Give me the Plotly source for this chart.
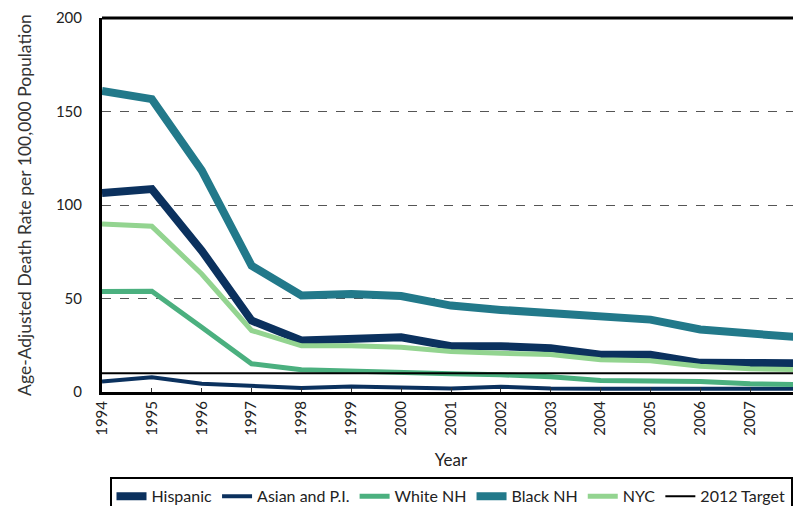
import plotly.graph_objects as go

years = list(range(1994, 2009))
hispanic = [106.4, 108.5, 75.6, 38.2, 27.5, 27.9, 29.3, 24.5, 24.5, 23.4, 19.9, 19.9, 15.6, 15.5, 15.3]
asian = [5.6, 7.9, 4.4, 3.1, 2.2, 2.9, 2.2, 1.9, 2.8, 1.9, 1.8, 1.8, 1.5, 1.5, 1.8]
white = [53.7, 53.9, 34.6, 15.1, 11.9, 11.1, 10.0, 9.8, 9.2, 8.1, 6.1, 6.1, 5.6, 4.4, 4.0]
black = [161.0, 156.6, 118.5, 67.6, 51.6, 52.4, 51.3, 46.2, 43.9, 42.2, 39.8, 38.7, 33.4, 31.6, 29.2]
nyc = [89.9, 88.6, 63.1, 32.9, 24.7, 24.7, 23.9, 21.6, 20.7, 20.1, 17.2, 16.7, 13.8, 12.4, 12.0]
target = [10] * len(years)
yticks = [0, 50, 100, 150, 200]

NAVY = "#0b315e"
TEAL = "#22798a"
GREEN = "#4bb07f"
LIGHT = "#93d490"

FONT = "Lato"

fig = go.Figure()
fig.add_trace(go.Scatter(x=years, y=hispanic, name="Hispanic", mode="lines",
                         line=dict(color=NAVY, width=8)))
fig.add_trace(go.Scatter(x=years, y=asian, name="Asian and P.I.", mode="lines",
                         line=dict(color=NAVY, width=4)))
fig.add_trace(go.Scatter(x=years, y=white, name="White NH", mode="lines",
                         line=dict(color=GREEN, width=5)))
fig.add_trace(go.Scatter(x=years, y=black, name="Black NH", mode="lines",
                         line=dict(color=TEAL, width=8)))
fig.add_trace(go.Scatter(x=years, y=nyc, name="NYC", mode="lines",
                         line=dict(color=LIGHT, width=5)))
fig.add_trace(go.Scatter(x=years, y=target, name="2012 Target", mode="lines",
                         line=dict(color="black", width=2)))

fig.update_layout(
    width=793, height=498,
    margin=dict(l=94, r=1, t=10, b=114, autoexpand=False),
    paper_bgcolor="white", plot_bgcolor="white",
    font=dict(family=FONT, size=15, color="#222"),
    showlegend=True,
    legend=dict(orientation="h", x=0.5, xanchor="center", y=-0.228, yanchor="top",
                bordercolor="black", borderwidth=2, font=dict(size=16, color="#222"),
                itemwidth=30, tracegroupgap=0),
    xaxis=dict(range=[1994, 2008], tickmode="array", tickvals=years,
               ticktext=[str(y) for y in years], tickangle=-90,
               ticklabeloverflow="allow",
               showline=True, linecolor="black", linewidth=3,
               ticks="inside", ticklen=4, tickcolor="#333", tickwidth=1,
               showgrid=False, zeroline=False, automargin=False,
               title=dict(text="Year", font=dict(size=17), standoff=20),
               tickfont=dict(size=15)),
    yaxis=dict(range=[0, 200], tickmode="array", tickvals=yticks,
               showline=True, linecolor="black", linewidth=3,
               showgrid=True, gridcolor="#555", griddash="dash", gridwidth=1,
               zeroline=False, automargin=False, ticks="", ticklabelstandoff=14,
               title=dict(text="Age-Adjusted Death Rate per 100,000 Population",
                          font=dict(size=17.5, color="#333"), standoff=20),
               tickfont=dict(size=15)),
    shapes=[
        dict(type="line", xref="paper", yref="paper", x0=0, x1=1, y0=1, y1=1,
             line=dict(color="black", width=3)),
        dict(type="line", xref="paper", yref="paper", x0=1, x1=1, y0=0, y1=1,
             line=dict(color="black", width=3)),
    ],
)

fig.write_html("out.html")
